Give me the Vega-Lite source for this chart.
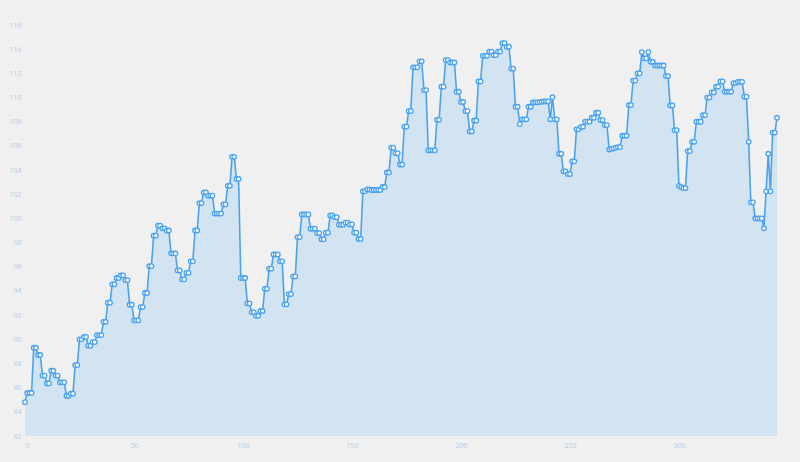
{
  "$schema": "https://vega.github.io/schema/vega-lite/v6.json",
  "autosize": "none",
  "width": 752,
  "height": 411,
  "padding": {"left": 25, "top": 25, "right": 23, "bottom": 26},
  "background": "#f0f0f0",
  "config": {"view": {"stroke": null}, "font": "Open Sans"},
  "data": {"values": [
    {"x":0,"y":84.8},{"x":1,"y":85.56},{"x":2,"y":85.56},{"x":3,"y":85.56},{"x":4,"y":89.3},{"x":5,"y":89.3},{"x":6,"y":88.7},{"x":7,"y":88.7},{"x":8,"y":87.0},{"x":9,"y":87.0},
    {"x":10,"y":86.35},{"x":11,"y":86.35},{"x":12,"y":87.4},{"x":13,"y":87.4},{"x":14,"y":87.0},{"x":15,"y":87.0},{"x":16,"y":86.44},{"x":17,"y":86.44},{"x":18,"y":86.44},{"x":19,"y":85.33},
    {"x":20,"y":85.33},{"x":21,"y":85.5},{"x":22,"y":85.5},{"x":23,"y":87.87},{"x":24,"y":87.87},{"x":25,"y":90.0},{"x":26,"y":90.0},{"x":27,"y":90.2},{"x":28,"y":90.2},{"x":29,"y":89.47},
    {"x":30,"y":89.47},{"x":31,"y":89.77},{"x":32,"y":89.77},{"x":33,"y":90.35},{"x":34,"y":90.35},{"x":35,"y":90.35},{"x":36,"y":91.45},{"x":37,"y":91.45},{"x":38,"y":93.03},{"x":39,"y":93.03},
    {"x":40,"y":94.55},{"x":41,"y":94.55},{"x":42,"y":95.07},{"x":43,"y":95.07},{"x":44,"y":95.29},{"x":45,"y":95.29},{"x":46,"y":94.9},{"x":47,"y":94.9},{"x":48,"y":92.86},{"x":49,"y":92.86},
    {"x":50,"y":91.57},{"x":51,"y":91.57},{"x":52,"y":91.57},{"x":53,"y":92.67},{"x":54,"y":92.67},{"x":55,"y":93.83},{"x":56,"y":93.83},{"x":57,"y":96.06},{"x":58,"y":96.06},{"x":59,"y":98.57},
    {"x":60,"y":98.57},{"x":61,"y":99.4},{"x":62,"y":99.4},{"x":63,"y":99.18},{"x":64,"y":99.18},{"x":65,"y":99.0},{"x":66,"y":99.0},{"x":67,"y":97.1},{"x":68,"y":97.1},{"x":69,"y":97.1},
    {"x":70,"y":95.7},{"x":71,"y":95.7},{"x":72,"y":94.96},{"x":73,"y":94.96},{"x":74,"y":95.5},{"x":75,"y":95.5},{"x":76,"y":96.45},{"x":77,"y":96.45},{"x":78,"y":99.0},{"x":79,"y":99.0},
    {"x":80,"y":101.27},{"x":81,"y":101.27},{"x":82,"y":102.15},{"x":83,"y":102.15},{"x":84,"y":101.88},{"x":85,"y":101.88},{"x":86,"y":101.88},{"x":87,"y":100.4},{"x":88,"y":100.4},{"x":89,"y":100.4},
    {"x":90,"y":100.4},{"x":91,"y":101.16},{"x":92,"y":101.16},{"x":93,"y":102.7},{"x":94,"y":102.7},{"x":95,"y":105.1},{"x":96,"y":105.1},{"x":97,"y":103.26},{"x":98,"y":103.26},{"x":99,"y":95.07},
    {"x":100,"y":95.07},{"x":101,"y":95.07},{"x":102,"y":92.97},{"x":103,"y":92.97},{"x":104,"y":92.23},{"x":105,"y":92.23},{"x":106,"y":91.95},{"x":107,"y":91.95},{"x":108,"y":92.34},{"x":109,"y":92.34},
    {"x":110,"y":94.18},{"x":111,"y":94.18},{"x":112,"y":95.84},{"x":113,"y":95.84},{"x":114,"y":97.02},{"x":115,"y":97.02},{"x":116,"y":97.02},{"x":117,"y":96.45},{"x":118,"y":96.45},{"x":119,"y":92.89},
    {"x":120,"y":92.89},{"x":121,"y":93.74},{"x":122,"y":93.74},{"x":123,"y":95.2},{"x":124,"y":95.2},{"x":125,"y":98.46},{"x":126,"y":98.46},{"x":127,"y":100.33},{"x":128,"y":100.33},{"x":129,"y":100.33},
    {"x":130,"y":100.33},{"x":131,"y":99.15},{"x":132,"y":99.15},{"x":133,"y":99.15},{"x":134,"y":98.79},{"x":135,"y":98.79},{"x":136,"y":98.27},{"x":137,"y":98.27},{"x":138,"y":98.82},{"x":139,"y":98.82},
    {"x":140,"y":100.25},{"x":141,"y":100.25},{"x":142,"y":100.1},{"x":143,"y":100.1},{"x":144,"y":99.48},{"x":145,"y":99.48},{"x":146,"y":99.48},{"x":147,"y":99.65},{"x":148,"y":99.65},{"x":149,"y":99.5},
    {"x":150,"y":99.5},{"x":151,"y":98.82},{"x":152,"y":98.82},{"x":153,"y":98.3},{"x":154,"y":98.3},{"x":155,"y":102.24},{"x":156,"y":102.24},{"x":157,"y":102.4},{"x":158,"y":102.4},{"x":159,"y":102.35},
    {"x":160,"y":102.35},{"x":161,"y":102.35},{"x":162,"y":102.35},{"x":163,"y":102.35},{"x":164,"y":102.6},{"x":165,"y":102.6},{"x":166,"y":103.8},{"x":167,"y":103.8},{"x":168,"y":105.85},{"x":169,"y":105.85},
    {"x":170,"y":105.4},{"x":171,"y":105.4},{"x":172,"y":104.46},{"x":173,"y":104.46},{"x":174,"y":107.6},{"x":175,"y":107.6},{"x":176,"y":108.88},{"x":177,"y":108.88},{"x":178,"y":112.5},{"x":179,"y":112.5},
    {"x":180,"y":112.5},{"x":181,"y":113.0},{"x":182,"y":113.0},{"x":183,"y":110.62},{"x":184,"y":110.62},{"x":185,"y":105.63},{"x":186,"y":105.63},{"x":187,"y":105.63},{"x":188,"y":105.63},{"x":189,"y":108.16},
    {"x":190,"y":108.16},{"x":191,"y":110.9},{"x":192,"y":110.9},{"x":193,"y":113.1},{"x":194,"y":113.1},{"x":195,"y":112.9},{"x":196,"y":112.9},{"x":197,"y":112.9},{"x":198,"y":110.48},{"x":199,"y":110.48},
    {"x":200,"y":109.63},{"x":201,"y":109.63},{"x":202,"y":108.88},{"x":203,"y":108.88},{"x":204,"y":107.2},{"x":205,"y":107.2},{"x":206,"y":108.1},{"x":207,"y":108.1},{"x":208,"y":111.33},{"x":209,"y":111.33},
    {"x":210,"y":113.45},{"x":211,"y":113.45},{"x":212,"y":113.45},{"x":213,"y":113.8},{"x":214,"y":113.8},{"x":215,"y":113.5},{"x":216,"y":113.5},{"x":217,"y":113.8},{"x":218,"y":113.8},{"x":219,"y":114.5},
    {"x":220,"y":114.5},{"x":221,"y":114.2},{"x":222,"y":114.2},{"x":223,"y":112.4},{"x":224,"y":112.4},{"x":225,"y":109.24},{"x":226,"y":109.24},{"x":227,"y":107.8},{"x":228,"y":108.2},{"x":229,"y":108.2},
    {"x":230,"y":108.2},{"x":231,"y":109.24},{"x":232,"y":109.24},{"x":233,"y":109.6},{"x":234,"y":109.6},{"x":235,"y":109.6},{"x":236,"y":109.62},{"x":237,"y":109.65},{"x":238,"y":109.68},{"x":239,"y":109.68},
    {"x":240,"y":109.68},{"x":241,"y":108.2},{"x":242,"y":110.04},{"x":243,"y":108.2},{"x":244,"y":108.2},{"x":245,"y":105.35},{"x":246,"y":105.35},{"x":247,"y":103.9},{"x":248,"y":103.9},{"x":249,"y":103.67},
    {"x":250,"y":103.67},{"x":251,"y":104.72},{"x":252,"y":104.72},{"x":253,"y":107.37},{"x":254,"y":107.37},{"x":255,"y":107.58},{"x":256,"y":107.58},{"x":257,"y":108.0},{"x":258,"y":108.0},{"x":259,"y":108.0},
    {"x":260,"y":108.33},{"x":261,"y":108.33},{"x":262,"y":108.74},{"x":263,"y":108.74},{"x":264,"y":108.14},{"x":265,"y":108.14},{"x":266,"y":107.72},{"x":267,"y":107.72},{"x":268,"y":105.7},{"x":269,"y":105.75},
    {"x":270,"y":105.8},{"x":271,"y":105.85},{"x":272,"y":105.9},{"x":273,"y":105.9},{"x":274,"y":106.84},{"x":275,"y":106.84},{"x":276,"y":106.84},{"x":277,"y":109.38},{"x":278,"y":109.38},{"x":279,"y":111.4},
    {"x":280,"y":111.4},{"x":281,"y":112.0},{"x":282,"y":112.0},{"x":283,"y":113.76},{"x":284,"y":113.24},{"x":285,"y":113.24},{"x":286,"y":113.76},{"x":287,"y":112.96},{"x":288,"y":112.96},{"x":289,"y":112.65},
    {"x":290,"y":112.65},{"x":291,"y":112.65},{"x":292,"y":112.65},{"x":293,"y":112.65},{"x":294,"y":111.78},{"x":295,"y":111.78},{"x":296,"y":109.35},{"x":297,"y":109.35},{"x":298,"y":107.3},{"x":299,"y":107.3},
    {"x":300,"y":102.7},{"x":301,"y":102.6},{"x":302,"y":102.5},{"x":303,"y":102.5},{"x":304,"y":105.57},{"x":305,"y":105.57},{"x":306,"y":106.34},{"x":307,"y":106.34},{"x":308,"y":108.0},{"x":309,"y":108.0},
    {"x":310,"y":108.0},{"x":311,"y":108.55},{"x":312,"y":108.55},{"x":313,"y":110.0},{"x":314,"y":110.0},{"x":315,"y":110.42},{"x":316,"y":110.42},{"x":317,"y":110.9},{"x":318,"y":110.9},{"x":319,"y":111.33},
    {"x":320,"y":111.33},{"x":321,"y":110.48},{"x":322,"y":110.48},{"x":323,"y":110.48},{"x":324,"y":110.48},{"x":325,"y":111.2},{"x":326,"y":111.2},{"x":327,"y":111.3},{"x":328,"y":111.3},{"x":329,"y":111.3},
    {"x":330,"y":110.07},{"x":331,"y":110.07},{"x":332,"y":106.34},{"x":333,"y":101.33},{"x":334,"y":101.33},{"x":335,"y":100.0},{"x":336,"y":100.0},{"x":337,"y":100.0},{"x":338,"y":100.0},{"x":339,"y":99.18},
    {"x":340,"y":102.24},{"x":341,"y":105.35},{"x":342,"y":102.24},{"x":343,"y":107.1},{"x":344,"y":107.1},{"x":345,"y":108.33}
  ]},
  "encoding": {
    "x": {"field": "x", "type": "quantitative", "title": null,
      "scale": {"domain": [0, 345], "nice": false, "zero": false},
      "axis": {"values": [0, 50, 100, 150, 200, 250, 300], "domain": false, "ticks": false, "grid": false,
        "labelColor": "#b7cde5", "labelFontSize": 7, "labelPadding": 5}},
    "y": {"field": "y", "type": "quantitative", "title": null,
      "scale": {"domain": [82, 116], "nice": false, "zero": false},
      "axis": {"values": [82,84,86,88,90,92,94,96,98,100,102,104,106,108,110,112,114,116], "domain": false, "ticks": false, "grid": false,
        "labelColor": "#b7cde5", "labelFontSize": 7, "labelPadding": 4}}
  },
  "layer": [
    {"mark": {"type": "area", "fill": "#d2e3f1", "opacity": 1}, "encoding": {"y2": {"datum": 82}}},
    {"mark": {"type": "line", "stroke": "#4aa3ef", "strokeWidth": 1.6}},
    {"mark": {"type": "point", "filled": false, "fill": "#ffffff", "stroke": "#4aa3ef", "size": 20, "strokeWidth": 1.3, "opacity": 1}}
  ]
}
